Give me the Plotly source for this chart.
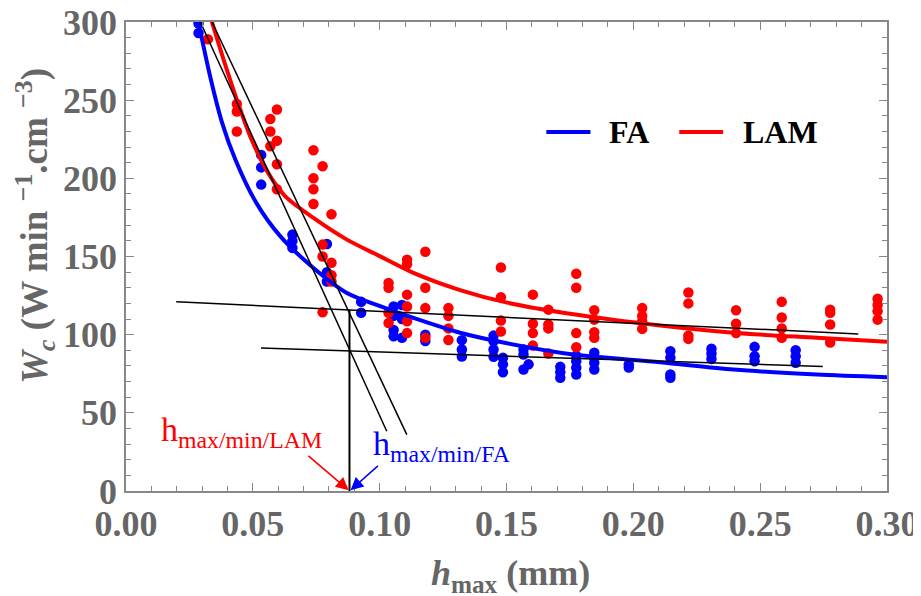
import plotly.graph_objects as go

# ---------------- data ----------------
fa_x = [0.0286, 0.0286,
        0.0533, 0.0533, 0.0533,
        0.0656, 0.0656, 0.0656,
        0.0792, 0.0792, 0.0792,
        0.0927, 0.0927,
        0.1055, 0.1055, 0.1055, 0.1055,
        0.1088, 0.1088, 0.1088,
        0.118, 0.118,
        0.1324, 0.1324, 0.1324,
        0.1449, 0.1449, 0.1449, 0.1449,
        0.1486, 0.1486, 0.1486,
        0.1567, 0.1567, 0.1567, 0.1587,
        0.1712, 0.1712, 0.1712,
        0.1775, 0.1775, 0.1775, 0.1775,
        0.1846, 0.1846, 0.1846, 0.1846,
        0.1982, 0.1982,
        0.2146, 0.2146, 0.2146, 0.2146,
        0.2308, 0.2308, 0.2308,
        0.2478, 0.2478, 0.2478,
        0.264, 0.264, 0.264]
fa_y = [299, 293,
        215, 207, 196,
        164, 160, 155.5,
        158, 140, 134,
        121, 114,
        118, 112, 103, 99,
        119, 110, 98,
        100, 96,
        96.5, 90.5, 86,
        99.4, 95.8, 90.5, 85.8,
        85.2, 81, 76,
        90.5, 87.3, 77.7, 81,
        79.4, 76, 72.4,
        86.6, 83, 78.8, 74.5,
        88.4, 85.2, 82, 77.7,
        81, 79,
        89.4, 85.2, 74.5, 72.4,
        91, 88, 84.5,
        92.2, 86.2, 83,
        90, 86.2, 82]

lam_x = [0.0323,
         0.0437, 0.0437, 0.0437,
         0.0569, 0.0569, 0.0569,
         0.0595, 0.0595, 0.0595, 0.0595,
         0.0739, 0.0739, 0.0739, 0.0739,
         0.0775, 0.0775, 0.0775, 0.0775,
         0.081, 0.081, 0.081, 0.081,
         0.1035, 0.1035, 0.1035, 0.1035,
         0.1108, 0.1108, 0.1108, 0.1108, 0.1108, 0.1108,
         0.118, 0.118, 0.118, 0.118,
         0.1271, 0.1271, 0.1271, 0.1271,
         0.1478, 0.1478, 0.1478, 0.1478,
         0.1604, 0.1604, 0.1604, 0.1604,
         0.1665, 0.1665, 0.1665, 0.1665,
         0.1775, 0.1775, 0.1775, 0.1775,
         0.1846, 0.1846, 0.1846, 0.1846,
         0.2035, 0.2035, 0.2035, 0.2035,
         0.2217, 0.2217, 0.2217, 0.2217,
         0.2405, 0.2405, 0.2405,
         0.2585, 0.2585, 0.2585, 0.2585,
         0.2776, 0.2776, 0.2776, 0.2776,
         0.2963, 0.2963, 0.2963, 0.2963]
lam_y = [289,
         247.6, 242.8, 230,
         238, 230, 220.5,
         244, 224, 209, 193,
         218, 200, 193, 183.6,
         207.7, 157.6, 150, 114.3,
         177, 146, 138, 134,
         133, 130, 114, 107.5,
         148, 145, 125.6, 118, 108.6, 101,
         153, 130, 117, 98,
         117, 112, 104, 96.6,
         143, 124, 109, 102,
         125.6, 107, 101, 93,
         116, 106.5, 104, 88,
         139, 130, 101, 92,
         115.6, 109.6, 101.5, 98,
         117, 112, 108.6, 103.7,
         127, 120, 99.4, 97.3,
         115.6, 107, 101,
         121, 111, 104, 98,
         116, 114, 106.5, 95,
         123, 119, 115, 109.6]

# fitted curves
fa_fit_x = [0.0284, 0.0332, 0.0378, 0.0431, 0.051, 0.0608, 0.0739, 0.0871, 0.1002,
            0.1133, 0.1317, 0.1502, 0.1764, 0.2106, 0.2395, 0.2723, 0.3]
fa_fit_y = [301, 265, 236, 212, 185.3, 163, 142.7, 126.7, 118.2,
            110.7, 101.2, 94.5, 87.3, 82.4, 77.7, 74.5, 72.8]
lam_fit_x = [0.0336, 0.0391, 0.0444, 0.0497, 0.0562, 0.0628, 0.0739, 0.0871, 0.1002,
             0.1133, 0.1317, 0.1502, 0.1764, 0.2106, 0.2395, 0.2723, 0.3]
lam_fit_y = [301.5, 272.7, 247, 224, 203, 188.5, 174.7, 160.8, 150.1,
             139.5, 128.5, 120.5, 113, 105.8, 101.2, 98, 95.4]

# construction lines
steep1_x = [0.0293, 0.1028]
steep1_y = [300, 38.2]
steep2_x = [0.0339, 0.1107]
steep2_y = [300, 36.1]
flat1_x = [0.0198, 0.2887]
flat1_y = [121, 100.5]
flat2_x = [0.0532, 0.2747]
flat2_y = [91.5, 79.6]
vline_x = [0.0881, 0.0881]
vline_y = [0, 116]

x_ticks = [0.0, 0.05, 0.10, 0.15, 0.20, 0.25, 0.30]
x_tick_text = ["0.00", "0.05", "0.10", "0.15", "0.20", "0.25", "0.30"]
y_ticks = [0, 50, 100, 150, 200, 250, 300]

SERIF = "Liberation Serif"
GRAY = "#666666"
BLUE = "#0000FF"
RED = "#FF0000"

fig = go.Figure()

fig.add_trace(go.Scatter(x=fa_x, y=fa_y, mode="markers",
                         marker=dict(color=BLUE, size=10.5, line=dict(width=0)),
                         showlegend=False, cliponaxis=True))
fig.add_trace(go.Scatter(x=lam_x, y=lam_y, mode="markers",
                         marker=dict(color=RED, size=10.5, line=dict(width=0)),
                         showlegend=False, cliponaxis=True))
fig.add_trace(go.Scatter(x=fa_fit_x, y=fa_fit_y, mode="lines",
                         line=dict(color=BLUE, width=4, shape="spline", smoothing=0.8),
                         showlegend=False))
fig.add_trace(go.Scatter(x=lam_fit_x, y=lam_fit_y, mode="lines",
                         line=dict(color=RED, width=4, shape="spline", smoothing=0.8),
                         showlegend=False))
for lx, ly, w in [(steep1_x, steep1_y, 1.5), (steep2_x, steep2_y, 1.5),
                  (flat1_x, flat1_y, 1.5), (flat2_x, flat2_y, 1.5),
                  (vline_x, vline_y, 2)]:
    fig.add_trace(go.Scatter(x=lx, y=ly, mode="lines",
                             line=dict(color="black", width=w), showlegend=False))

# manual legend
fig.add_shape(type="line", xref="x", yref="y", x0=0.1657, x1=0.1831, y0=229.7, y1=229.7,
              line=dict(color=BLUE, width=4))
fig.add_shape(type="line", xref="x", yref="y", x0=0.2181, x1=0.2354, y0=229.7, y1=229.7,
              line=dict(color=RED, width=4))
fig.add_annotation(x=0.1895, y=229.7, xref="x", yref="y", text="<b>FA</b>", showarrow=False,
                   xanchor="left", yanchor="middle",
                   font=dict(family=SERIF, size=32, color="black"))
fig.add_annotation(x=0.2425, y=229.7, xref="x", yref="y", text="<b>LAM</b>", showarrow=False,
                   xanchor="left", yanchor="middle",
                   font=dict(family=SERIF, size=32, color="black"))

# h_max/min labels and arrows
fig.add_annotation(x=0.0454, y=38, xref="x", yref="y", text="h<sub>max/min/LAM</sub>",
                   showarrow=False, xanchor="center", yanchor="middle",
                   font=dict(family=SERIF, size=34, color=RED))
fig.add_annotation(x=0.1246, y=28.5, xref="x", yref="y", text="h<sub>max/min/FA</sub>",
                   showarrow=False, xanchor="center", yanchor="middle",
                   font=dict(family=SERIF, size=34, color=BLUE))
fig.add_annotation(x=0.0878, y=0.5, xref="x", yref="y", ax=0.0713, ay=23.3,
                   axref="x", ayref="y", text="", showarrow=True,
                   arrowhead=2, arrowsize=1.6, arrowwidth=1.6, arrowcolor=RED)
fig.add_annotation(x=0.0885, y=0.5, xref="x", yref="y", ax=0.0999, ay=16.9,
                   axref="x", ayref="y", text="", showarrow=True,
                   arrowhead=2, arrowsize=1.6, arrowwidth=1.6, arrowcolor=BLUE)

# axis titles
fig.add_annotation(x=0.5046, y=-0.18, xref="paper", yref="paper",
                   text="<b><i>h</i><sub>max</sub> (mm)</b>", showarrow=False,
                   xanchor="center", yanchor="middle",
                   font=dict(family=SERIF, size=36, color=GRAY))
fig.add_annotation(x=-0.1205, y=0.566, xref="paper", yref="paper", textangle=-90,
                   text="<b><i>W<sub>c</sub></i> (W min <sup>\u22121</sup>.cm <sup>\u22123</sup>)</b>",
                   showarrow=False, xanchor="center", yanchor="middle",
                   font=dict(family=SERIF, size=37, color=GRAY))

axis_common = dict(
    showline=True, linecolor="#888888", linewidth=1.5, mirror="allticks",
    ticks="inside", ticklen=8, tickwidth=1.2, tickcolor="#888888",
    showgrid=False, zeroline=False, automargin=False, ticklabeloverflow="allow",
    tickfont=dict(family=SERIF, size=36, color=GRAY, weight="bold"),
)
fig.update_xaxes(range=[0, 0.3], tickvals=x_ticks, ticktext=x_tick_text,
                 minor=dict(dtick=0.01, ticks="inside", ticklen=5, tickcolor="#888888", tickwidth=1),
                 **axis_common)
fig.update_yaxes(range=[0, 300], tickvals=y_ticks,
                 minor=dict(dtick=10, ticks="inside", ticklen=5, tickcolor="#888888", tickwidth=1),
                 **axis_common)

# the page body adds an 8px offset, so the figure is 8px smaller in each direction
fig.update_layout(width=913, height=588,
                  margin=dict(l=118, r=34, t=14, b=104.5, autoexpand=False),
                  plot_bgcolor="white", paper_bgcolor="white",
                  showlegend=False)

fig.write_html("out.html")
